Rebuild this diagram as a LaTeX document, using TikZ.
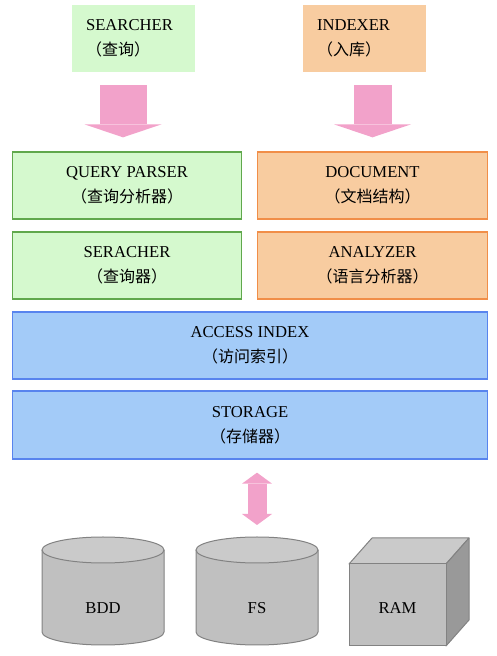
\documentclass[tikz,border=0pt]{standalone}
\usepackage{fontspec}
\setmainfont[Scale=1.04]{Liberation Serif}
\newfontfamily\cjk{Noto Sans CJK SC}
\usetikzlibrary{arrows.meta}
\definecolor{gfill}{RGB}{213,249,206}
\definecolor{gline}{RGB}{96,168,76}
\definecolor{ofill}{RGB}{248,204,160}
\definecolor{oline}{RGB}{241,142,72}
\definecolor{bfill}{RGB}{163,203,248}
\definecolor{bline}{RGB}{88,132,238}
\definecolor{pinkc}{RGB}{242,162,202}
\definecolor{cylbody}{RGB}{192,192,192}
\definecolor{cyltop}{RGB}{202,202,202}
\definecolor{edgec}{RGB}{130,130,130}
\definecolor{sidec}{RGB}{153,153,153}
\begin{document}
\begin{tikzpicture}[x=1pt,y=1pt,
  every node/.style={font=\fontsize{16}{25}\selectfont, text=black},
  topbox/.style={rectangle, minimum height=67pt, text width=95pt, inner xsep=14pt, inner ysep=0pt, align=left},
  box/.style={rectangle, minimum height=67pt, align=center, inner sep=0pt, line width=1.3pt},
  gbox/.style={box, fill=gfill, draw=gline},
  obox/.style={box, fill=ofill, draw=oline},
  bbox/.style={box, fill=bfill, draw=bline},
  blockarrow/.style={draw=pinkc, -{Triangle[width=77pt,length=13pt,line width=0pt,fill=pinkc]}, shorten <=13pt, shorten >=14pt},
  dblarrow/.style={draw=pinkc, line width=19pt, {Triangle[width=30pt,length=11pt,line width=0pt,fill=pinkc]}-{Triangle[width=30pt,length=11pt,line width=0pt,fill=pinkc]}, shorten <=13pt, shorten >=12pt},
  cyl/.style={fill=cylbody},
  cyledge/.style={draw=edgec, line width=1pt},
  lbl/.style={inner sep=0pt}]
\useasboundingbox (0,0) rectangle (497,656);

% top boxes
\node[topbox, fill=gfill] (s) at (133.5,617.5) {SEARCHER\\{\cjk（查询）}};
\node[topbox, fill=ofill] (ix) at (364.5,617.5) {INDEXER\\{\cjk（入库）}};

% layer boxes
\node[gbox, minimum width=229pt] (qp) at (127,470.5) {QUERY PARSER\\{\cjk（查询分析器）}};
\node[obox, minimum width=230pt] (doc) at (372.5,470.5) {DOCUMENT\\{\cjk（文档结构）}};
\node[gbox, minimum width=229pt] (sr) at (127,390.5) {SERACHER\\{\cjk（查询器）}};
\node[obox, minimum width=230pt] (an) at (372.5,390.5) {ANALYZER\\{\cjk（语言分析器）}};
\node[bbox, minimum width=475pt] (ai) at (250,310.5) {ACCESS INDEX\\{\cjk（访问索引）}};
\node[bbox, minimum width=475pt, minimum height=68pt] (st) at (250,231) {STORAGE\\{\cjk（存储器）}};

% block arrows
\draw[blockarrow, line width=47pt] ([xshift=-4pt]qp.north |- s.south) -- ([xshift=-4pt]qp.north);
\draw[blockarrow, line width=38pt] (doc.north |- ix.south) -- (doc.north);

% BDD cylinder
\fill[cyl] (42,106) -- (42,24) arc[start angle=180, end angle=360, x radius=61pt, y radius=13pt] -- (164,106) -- cycle;
\draw[cyledge] (42,106) -- (42,24) arc[start angle=180, end angle=360, x radius=61pt, y radius=13pt] -- (164,106);
\filldraw[fill=cyltop, cyledge] (103,106) ellipse[x radius=61pt, y radius=13pt];
\node[lbl] (bdd) at (103,48) {BDD};

% FS cylinder
\fill[cyl] (196,106) -- (196,24) arc[start angle=180, end angle=360, x radius=61pt, y radius=13pt] -- (318,106) -- cycle;
\draw[cyledge] (196,106) -- (196,24) arc[start angle=180, end angle=360, x radius=61pt, y radius=13pt] -- (318,106);
\filldraw[fill=cyltop, cyledge] (257,106) ellipse[x radius=61pt, y radius=13pt];
\coordinate (fstop) at (257,119);
\node[lbl] (fs) at (257,48) {FS};

% RAM cube
\filldraw[fill=cyltop, cyledge, line join=round] (349,92) -- (372,118) -- (469,118) -- (446,92) -- cycle;
\filldraw[fill=sidec, cyledge, line join=round] (446,92) -- (469,118) -- (469,36) -- (446,10) -- cycle;
\filldraw[fill=cylbody, cyledge] (349,10) rectangle (446,92);
\node[lbl] (ram) at (397.5,48) {RAM};

% double arrow
\draw[dblarrow] (fstop |- st.south) -- (fstop);
\end{tikzpicture}
\end{document}
